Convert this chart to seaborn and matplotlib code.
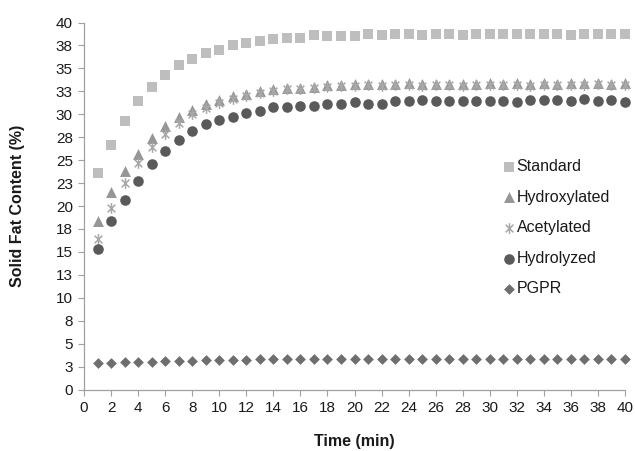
import matplotlib
matplotlib.use("Agg")
import matplotlib.pyplot as plt
from matplotlib.path import Path
import seaborn as sns
import numpy as np

# ---- data ----
time = list(range(1, 41))
standard = [23.6, 26.7, 29.3, 31.4, 33.0, 34.3, 35.4, 36.0, 36.7,
            37.0, 37.5, 37.8, 38.0, 38.2, 38.3, 38.3, 38.6, 38.5,
            38.5, 38.5, 38.7, 38.6, 38.7, 38.7, 38.6, 38.7, 38.7, 38.6, 38.7,
            38.7, 38.7, 38.7, 38.7, 38.8, 38.8, 38.6, 38.8, 38.7, 38.7, 38.8]
hydroxylated = [18.4, 21.5, 23.8, 25.7, 27.4, 28.7, 29.7, 30.5, 31.1,
                31.6, 32.0, 32.2, 32.5, 32.7, 32.9, 32.9, 33.0, 33.2,
                33.2, 33.3, 33.3, 33.3, 33.3, 33.4, 33.3, 33.3, 33.3, 33.3, 33.3,
                33.4, 33.3, 33.4, 33.3, 33.4, 33.3, 33.4, 33.4, 33.4, 33.3, 33.4]
acetylated = [16.4, 19.8, 22.5, 24.7, 26.4, 27.9, 29.1, 30.0, 30.7,
              31.2, 31.7, 32.0, 32.3, 32.5, 32.7, 32.8, 32.9, 33.0,
              33.1, 33.1, 33.2, 33.1, 33.2, 33.2, 33.1, 33.2, 33.2, 33.1, 33.2,
              33.2, 33.2, 33.2, 33.1, 33.2, 33.2, 33.2, 33.2, 33.3, 33.2, 33.2]
hydrolyzed = [15.3, 18.4, 20.7, 22.7, 24.6, 26.0, 27.2, 28.2, 28.9,
              29.4, 29.7, 30.1, 30.4, 30.8, 30.8, 30.9, 30.9, 31.1,
              31.1, 31.3, 31.1, 31.1, 31.4, 31.4, 31.6, 31.4, 31.4, 31.4, 31.4,
              31.4, 31.4, 31.3, 31.6, 31.6, 31.6, 31.4, 31.7, 31.4, 31.6, 31.3]
pgpr = [2.85, 2.9, 2.95, 3.0, 3.05, 3.1, 3.15, 3.15, 3.2, 3.25,
        3.25, 3.25, 3.3, 3.3, 3.3, 3.3, 3.3, 3.3, 3.3, 3.3,
        3.3, 3.3, 3.3, 3.3, 3.3, 3.3, 3.3, 3.3, 3.3, 3.3,
        3.3, 3.3, 3.3, 3.3, 3.3, 3.3, 3.3, 3.3, 3.3, 3.3]
series_names = ["Standard", "Hydroxylated", "Acetylated", "Hydrolyzed", "PGPR"]
x_ticks = list(range(0, 41, 2))
y_ticks = [0, 2.5, 5, 7.5, 10, 12.5, 15, 17.5, 20, 22.5, 25, 27.5, 30, 32.5, 35, 37.5, 40]
y_tick_labels = ["0", "3", "5", "8", "10", "13", "15", "18", "20", "23",
                 "25", "28", "30", "33", "35", "38", "40"]

# ---- style ----
sns.set_theme(style="ticks")
plt.rcParams["font.family"] = ["Liberation Sans", "DejaVu Sans"]

asterisk = Path([(0, -1), (0, 1), (-0.72, -0.72), (0.72, 0.72), (-0.72, 0.72), (0.72, -0.72)],
                [Path.MOVETO, Path.LINETO, Path.MOVETO, Path.LINETO, Path.MOVETO, Path.LINETO])

styles = {
    "Standard": dict(marker="s", color="#BEBEBE", s=55, lw=0),
    "Hydroxylated": dict(marker="^", color="#969696", s=62, lw=0),
    "Acetylated": dict(marker=asterisk, color="#A8A8A8", s=60, lw=1.1),
    "Hydrolyzed": dict(marker="o", color="#5A5A5A", s=58, lw=0),
    "PGPR": dict(marker="D", color="#6E6E6E", s=30, lw=0),
}
data = dict(zip(series_names, [standard, hydroxylated, acetylated, hydrolyzed, pgpr]))

fig = plt.figure(figsize=(6.35, 4.51), dpi=100)
ax = fig.add_axes([84 / 635, 1 - 389.5 / 451, (625 - 84) / 635, (389.5 - 22.5) / 451])

for name in series_names:
    st = styles[name]
    sns.scatterplot(x=time, y=data[name], ax=ax, marker=st["marker"], s=st["s"],
                    color=st["color"], edgecolor=st["color"], linewidth=st["lw"],
                    label=name, zorder=3, clip_on=False)

ax.set_xlim(0, 40)
ax.set_ylim(0, 40)
ax.set_xticks(x_ticks)
ax.set_xticklabels([str(t) for t in x_ticks])
ax.set_yticks(y_ticks)
ax.set_yticklabels(y_tick_labels)
ax.tick_params(axis="both", direction="out", length=4, width=0.8, color="#A0A0A0",
               labelsize=11, labelcolor="#1a1a1a", pad=4)
for side in ["top", "right"]:
    ax.spines[side].set_visible(False)
for side in ["left", "bottom"]:
    ax.spines[side].set_color("#A0A0A0")
    ax.spines[side].set_linewidth(0.9)
ax.grid(False)

ax.set_xlabel("Time (min)", fontsize=11.5, fontweight="bold", color="#1a1a1a", labelpad=14)
ax.set_ylabel("Solid Fat Content (%)", fontsize=11.5, fontweight="bold", color="#1a1a1a", labelpad=22)

leg = ax.legend(loc="center left", bbox_to_anchor=(0.776, 0.441), frameon=False,
                fontsize=11.5, handlelength=0.6, handletextpad=0.2, labelspacing=0.98,
                borderpad=0, borderaxespad=0, markerscale=1.0)
for t in leg.get_texts():
    t.set_color("#1a1a1a")

fig.savefig("out.png", dpi=100)
